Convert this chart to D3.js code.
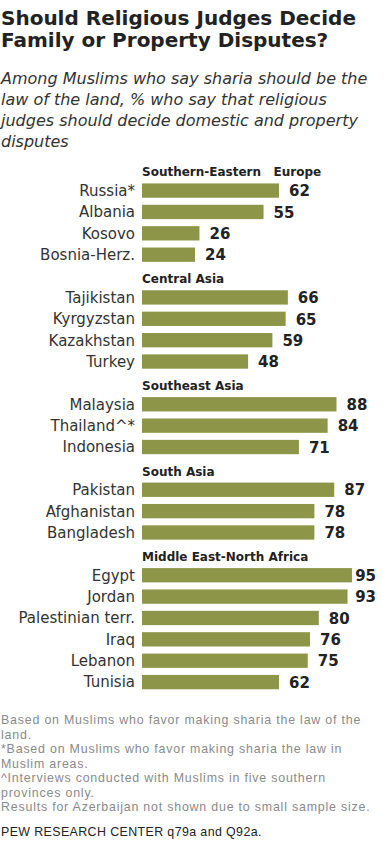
<!DOCTYPE html>
<html>
<head>
<meta charset="utf-8">
<script src="https://cdn.jsdelivr.net/npm/d3@7"></script>
<style>
  body { margin: 0; background: #fff; }
</style>
</head>
<body>
<div id="chart"></div>
<script>
// groups, in the order they appear
const groups = ["Southern-Eastern\u00a0\u00a0\u00a0Europe", "Central Asia", "Southeast\u00a0Asia", "South\u00a0Asia", "Middle East-North\u00a0Africa"]
const countries = [
    ["Russia*", "Albania", "Kosovo", "Bosnia-Herz."],
    ["Tajikistan", "Kyrgyzstan", "Kazakhstan", "Turkey"],
    ["Malaysia", "Thailand^*", "Indonesia"],
    ["Pakistan", "Afghanistan", "Bangladesh"],
    ["Egypt", "Jordan", "Palestinian terr.", "Iraq", "Lebanon", "Tunisia"]
]
const values = [
    [62, 55, 26, 24],
    [66, 65, 59, 48],
    [88, 84, 71],
    [87, 78, 78],
    [95, 93, 80, 76, 75, 62]
]

const title = ["Should Religious Judges Decide", "Family or Property Disputes?"]
const subtitle = [
    "Among Muslims who say sharia should be the",
    "law of the land, % who say that religious",
    "judges should decide domestic and property",
    "disputes"
]
const notes = [
    "Based on Muslims who  favor making sharia the law of the",
    "land.",
    "*Based on Muslims who  favor making sharia the law in",
    "Muslim areas.",
    "^Interviews conducted with Muslims in five  southern",
    "provinces only.",
    "Results for Azerbaijan not shown due to small sample size."
]
const source = "PEW RESEARCH  CENTER q79a and Q92a."

const width = 385
const height = 844
const barColor = "#8d9648"

// flatten into rows: a header row then its countries
let rows = []
groups.forEach((g, gi) => {
    rows.push({ type: "header", name: g, key: "h" + gi })
    countries[gi].forEach((c, ci) => {
        rows.push({ type: "bar", name: c, value: values[gi][ci], key: c })
    })
})

const svg = d3.select("#chart")
    .append("svg")
    .attr("width", width)
    .attr("height", height)

// title
svg.append("g").selectAll("text")
    .data(title)
    .join("text")
    .attr("x", 1)
    .attr("y", (d, i) => 25 + i * 22)
    .style("font-family", "DejaVu Sans")
    .style("font-weight", "bold")
    .style("font-size", "20px")
    .style("fill", "#222")
    .text(d => d)

// subtitle
svg.append("g").selectAll("text")
    .data(subtitle)
    .join("text")
    .attr("x", 1)
    .attr("y", (d, i) => 84 + i * 21)
    .style("font-family", "DejaVu Sans")
    .style("font-style", "italic")
    .style("font-size", "16px")
    .style("fill", "#333")
    .text(d => d)

const x = d3.scaleLinear()
    .domain([0, 100])
    .range([142, 142 + 221])

const y = d3.scaleBand()
    .domain(rows.map(d => d.key))
    .range([155, 696.3])
    .padding(0.33)

const plot = svg.append("g")

// group headers
plot.selectAll(".group-header")
    .data(rows.filter(d => d.type === "header"))
    .join("text")
    .attr("class", "group-header")
    .attr("x", x(0))
    .attr("y", d => y(d.key) + y.bandwidth() / 2 + 3)
    .attr("dy", "0.35em")
    .style("font-family", "DejaVu Sans")
    .style("font-weight", "bold")
    .style("font-size", "12px")
    .style("fill", "#222")
    .text(d => d.name)

const barRows = rows.filter(d => d.type === "bar")

plot.selectAll(".bar")
    .data(barRows)
    .join("rect")
    .attr("class", "bar")
    .attr("x", x(0))
    .attr("y", d => y(d.key))
    .attr("width", d => x(d.value) - x(0))
    .attr("height", y.bandwidth())
    .attr("fill", barColor)

// country labels
plot.selectAll(".label")
    .data(barRows)
    .join("text")
    .attr("class", "label")
    .attr("x", x(0) - 7)
    .attr("y", d => y(d.key) + y.bandwidth() / 2)
    .attr("dy", "0.36em")
    .attr("text-anchor", "end")
    .style("font-family", "DejaVu Sans")
    .style("font-size", "15px")
    .style("fill", "#333")
    .text(d => d.name)

// value labels, kept inside the right edge
plot.selectAll(".value")
    .data(barRows)
    .join("text")
    .attr("class", "value")
    .attr("y", d => y(d.key) + y.bandwidth() / 2)
    .attr("dy", "0.38em")
    .style("font-family", "DejaVu Sans")
    .style("font-weight", "bold")
    .style("font-size", "15px")
    .style("fill", "#222")
    .text(d => d.value)
    .attr("x", function (d) {
        const w = this.getComputedTextLength()
        return Math.min(x(d.value) + 10, 376 - w)
    })

// footnotes
svg.append("g").selectAll("text")
    .data(notes)
    .join("text")
    .attr("x", 1)
    .attr("y", (d, i) => 724 + i * 14.5)
    .style("font-family", "Liberation Sans")
    .style("font-size", "12.4px")
    .style("letter-spacing", "0.8px")
    .style("fill", "#8a8a8a")
    .text(d => d)

svg.append("text")
    .attr("x", 1)
    .attr("y", 836)
    .style("font-family", "Liberation Sans")
    .style("font-size", "12.4px")
    .style("letter-spacing", "0.4px")
    .style("fill", "#222")
    .text(source)
</script>
</body>
</html>
